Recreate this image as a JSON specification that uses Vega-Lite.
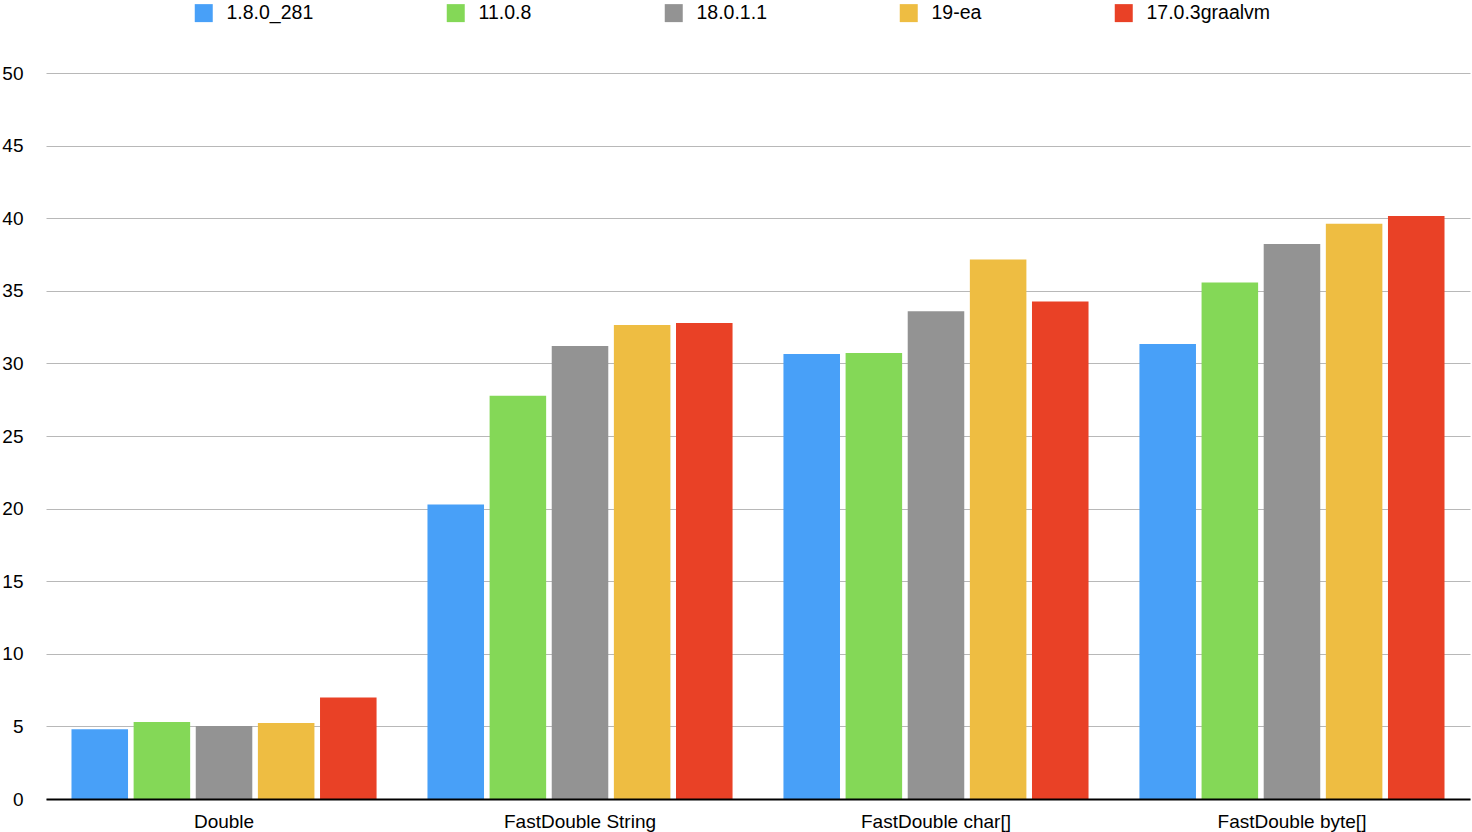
{
  "$schema": "https://vega.github.io/schema/vega-lite/v6.json",
  "width": 1424,
  "height": 726,
  "autosize": {"type": "none"},
  "padding": {"left": 46, "top": 73, "right": 2, "bottom": 33},
  "background": "white",
  "data": {
    "values": [
      {"benchmark": "Double", "jdk": "1.8.0_281", "value": 4.81},
      {"benchmark": "Double", "jdk": "11.0.8", "value": 5.30},
      {"benchmark": "Double", "jdk": "18.0.1.1", "value": 5.02},
      {"benchmark": "Double", "jdk": "19-ea", "value": 5.23},
      {"benchmark": "Double", "jdk": "17.0.3graalvm", "value": 6.99},
      {"benchmark": "FastDouble String", "jdk": "1.8.0_281", "value": 20.28},
      {"benchmark": "FastDouble String", "jdk": "11.0.8", "value": 27.78},
      {"benchmark": "FastDouble String", "jdk": "18.0.1.1", "value": 31.19},
      {"benchmark": "FastDouble String", "jdk": "19-ea", "value": 32.64},
      {"benchmark": "FastDouble String", "jdk": "17.0.3graalvm", "value": 32.78},
      {"benchmark": "FastDouble char[]", "jdk": "1.8.0_281", "value": 30.64},
      {"benchmark": "FastDouble char[]", "jdk": "11.0.8", "value": 30.71},
      {"benchmark": "FastDouble char[]", "jdk": "18.0.1.1", "value": 33.6},
      {"benchmark": "FastDouble char[]", "jdk": "19-ea", "value": 37.16},
      {"benchmark": "FastDouble char[]", "jdk": "17.0.3graalvm", "value": 34.26},
      {"benchmark": "FastDouble byte[]", "jdk": "1.8.0_281", "value": 31.33},
      {"benchmark": "FastDouble byte[]", "jdk": "11.0.8", "value": 35.57},
      {"benchmark": "FastDouble byte[]", "jdk": "18.0.1.1", "value": 38.23},
      {"benchmark": "FastDouble byte[]", "jdk": "19-ea", "value": 39.61},
      {"benchmark": "FastDouble byte[]", "jdk": "17.0.3graalvm", "value": 40.16}
    ]
  },
  "mark": {"type": "bar"},
  "encoding": {
    "x": {
      "field": "benchmark",
      "type": "nominal",
      "sort": ["Double", "FastDouble String", "FastDouble char[]", "FastDouble byte[]"],
      "scale": {"paddingInner": 0.143, "paddingOuter": 0.0716},
      "axis": {
        "title": null,
        "labelAngle": 0,
        "ticks": false,
        "domain": true,
        "domainColor": "#000000",
        "domainWidth": 2,
        "labelPadding": 13,
        "labelFontSize": 19,
        "labelFont": "Liberation Sans",
        "labelColor": "#000000",
        "zindex": 1
      }
    },
    "xOffset": {
      "field": "jdk",
      "type": "nominal",
      "sort": ["1.8.0_281", "11.0.8", "18.0.1.1", "19-ea", "17.0.3graalvm"],
      "scale": {"paddingInner": 0.09, "paddingOuter": 0}
    },
    "y": {
      "field": "value",
      "type": "quantitative",
      "scale": {"domain": [0, 50], "nice": false},
      "axis": {
        "title": null,
        "values": [0, 5, 10, 15, 20, 25, 30, 35, 40, 45, 50],
        "domain": false,
        "ticks": false,
        "grid": true,
        "gridColor": "#b8b8b8",
        "gridWidth": 1,
        "labelPadding": 23,
        "labelFontSize": 19,
        "labelFont": "Liberation Sans",
        "labelColor": "#000000"
      }
    },
    "color": {
      "field": "jdk",
      "type": "nominal",
      "sort": ["1.8.0_281", "11.0.8", "18.0.1.1", "19-ea", "17.0.3graalvm"],
      "scale": {
        "domain": ["1.8.0_281", "11.0.8", "18.0.1.1", "19-ea", "17.0.3graalvm"],
        "range": ["#48a0f8", "#84d857", "#939393", "#eebd42", "#e94126"]
      },
      "legend": {
        "title": null,
        "orient": "none",
        "legendX": 148,
        "legendY": -70,
        "direction": "horizontal",
        "symbolType": "square",
        "symbolSize": 324,
        "symbolStrokeWidth": 0,
        "symbolOpacity": 1,
        "labelFontSize": 19.5,
        "labelFont": "Liberation Sans",
        "labelColor": "#000000",
        "labelOffset": 13,
        "columnPadding": 132
      }
    }
  },
  "config": {
    "view": {"stroke": null}
  }
}
